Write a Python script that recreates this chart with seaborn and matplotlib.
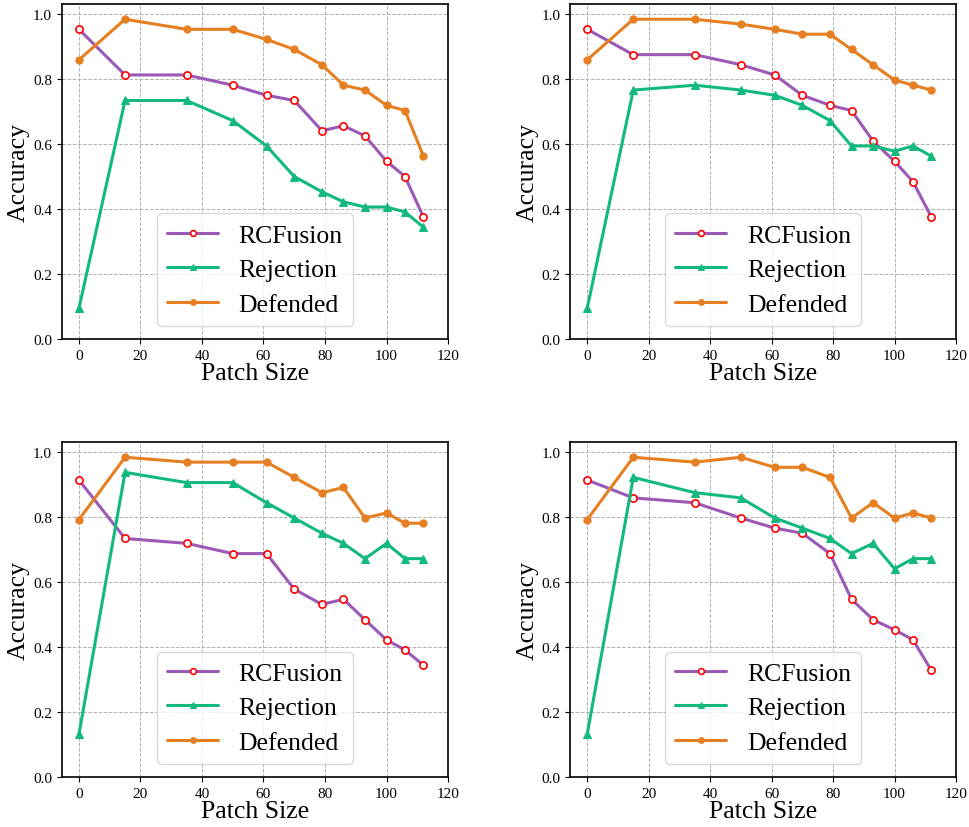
import matplotlib
matplotlib.use("Agg")
import matplotlib.pyplot as plt
import seaborn as sns
import pandas as pd

patch_sizes = [0, 15, 35, 50, 61, 70, 79, 86, 93, 100, 106, 112]
series_names = ["RCFusion", "Rejection", "Defended"]

p1_rcfusion = [0.953, 0.8125, 0.8125, 0.781, 0.75, 0.734, 0.641, 0.656, 0.625, 0.547, 0.5, 0.375]
p1_rejection = [0.094, 0.734, 0.734, 0.672, 0.594, 0.5, 0.453, 0.422, 0.406, 0.406, 0.391, 0.344]
p1_defended = [0.859, 0.984, 0.953, 0.953, 0.922, 0.891, 0.844, 0.781, 0.766, 0.719, 0.703, 0.5625]

p2_rcfusion = [0.953, 0.875, 0.875, 0.844, 0.8125, 0.75, 0.719, 0.703, 0.609, 0.547, 0.484, 0.375]
p2_rejection = [0.094, 0.766, 0.781, 0.766, 0.75, 0.719, 0.672, 0.594, 0.594, 0.578, 0.594, 0.5625]
p2_defended = [0.859, 0.984, 0.984, 0.969, 0.953, 0.938, 0.938, 0.891, 0.844, 0.797, 0.781, 0.766]

p3_rcfusion = [0.914, 0.734, 0.719, 0.6875, 0.6875, 0.578, 0.531, 0.547, 0.484, 0.422, 0.391, 0.344]
p3_rejection = [0.131, 0.9375, 0.906, 0.906, 0.844, 0.797, 0.75, 0.719, 0.672, 0.719, 0.672, 0.672]
p3_defended = [0.792, 0.984, 0.969, 0.969, 0.969, 0.922, 0.875, 0.891, 0.797, 0.8125, 0.781, 0.781]

p4_rcfusion = [0.914, 0.859, 0.844, 0.797, 0.766, 0.75, 0.6875, 0.547, 0.484, 0.453, 0.422, 0.328]
p4_rejection = [0.131, 0.922, 0.875, 0.859, 0.797, 0.766, 0.734, 0.6875, 0.719, 0.641, 0.672, 0.672]
p4_defended = [0.792, 0.984, 0.969, 0.984, 0.953, 0.953, 0.922, 0.797, 0.844, 0.797, 0.8125, 0.797]

panels = [
    (p1_rcfusion, p1_rejection, p1_defended),
    (p2_rcfusion, p2_rejection, p2_defended),
    (p3_rcfusion, p3_rejection, p3_defended),
    (p4_rcfusion, p4_rejection, p4_defended),
]

x_label = "Patch Size"
y_label = "Accuracy"
x_ticks = [0, 20, 40, 60, 80, 100, 120]
y_ticks = [0.0, 0.2, 0.4, 0.6, 0.8, 1.0]

sns.set_theme(style="ticks")
plt.rcParams["font.family"] = ["Liberation Serif", "DejaVu Serif"]
plt.rcParams["xtick.color"] = "black"
plt.rcParams["ytick.color"] = "black"
plt.rcParams["text.color"] = "black"
plt.rcParams["axes.labelcolor"] = "black"

styles = {
    "RCFusion": dict(color="#9b59b6", marker="o", markerfacecolor="white",
                     markeredgecolor="red", markersize=5.2, markeredgewidth=1.2),
    "Rejection": dict(color="#12b97c", marker="^", markerfacecolor="#12b97c",
                      markeredgecolor="#12b97c", markersize=5.2),
    "Defended": dict(color="#e67e22", marker="o", markerfacecolor="#e67e22",
                     markeredgecolor="#e67e22", markersize=5.2),
}

fig = plt.figure(figsize=(9.7, 8.28), dpi=100)
positions = [
    [0.0636, 0.5894, 0.3983, 0.4046],
    [0.5876, 0.5894, 0.3980, 0.4046],
    [0.0636, 0.0604, 0.3983, 0.4046],
    [0.5876, 0.0604, 0.3980, 0.4046],
]

for pos, vals in zip(positions, panels):
    ax = fig.add_axes(pos)
    df = pd.DataFrame({"Patch Size": patch_sizes})
    for name, v in zip(series_names, vals):
        df[name] = v
    long = df.melt(id_vars="Patch Size", var_name="Method", value_name="Accuracy")
    for name in series_names:
        sub = long[long["Method"] == name]
        sns.lineplot(data=sub, x="Patch Size", y="Accuracy", ax=ax, label=name,
                     linewidth=2.2, **styles[name])
    ax.set_xlim(-5.6, 120)
    ax.set_ylim(0, 1.031)
    ax.set_xticks(x_ticks)
    ax.set_yticks(y_ticks)
    ax.set_yticklabels([f"{t:.1f}" for t in y_ticks])
    ax.tick_params(labelsize=11, length=3.5, width=0.8, direction="out")
    ax.grid(True, linestyle="--", color="#b0b0b0", linewidth=0.7)
    ax.set_axisbelow(True)
    for s in ax.spines.values():
        s.set_visible(True)
        s.set_color("black")
        s.set_linewidth(1.2)
    ax.set_xlabel(x_label, fontsize=18.5, labelpad=0)
    ax.set_ylabel(y_label, fontsize=18.5, labelpad=2)
    ax.legend(loc="lower center", fontsize=18.5, frameon=True, fancybox=True,
              handlelength=2.0, handletextpad=0.8, borderpad=0.4,
              labelspacing=0.45, borderaxespad=0.5, edgecolor="#d0d0d0",
              markerscale=0.8)

fig.savefig("out.png", dpi=100)
